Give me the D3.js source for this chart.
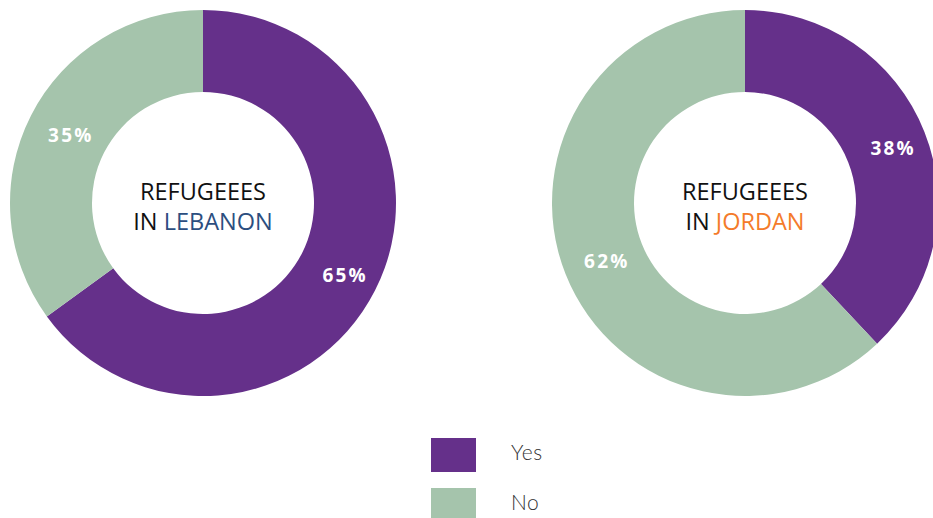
<!DOCTYPE html>
<html><head><meta charset="utf-8">
<script src="https://cdn.jsdelivr.net/npm/d3@7"></script>
<style>body{margin:0;background:#fff;overflow:hidden}svg{display:block}</style>
</head><body>
<script>
const categories = ["Yes", "No"];
const lebanonValues = [65, 35];
const jordanValues = [38, 62];
const countries = ["LEBANON", "JORDAN"];
const colors = ["#65308a", "#a5c4ac"];
const countryColors = ["#2c4e7f", "#f47b2a"];

const W = 933, H = 518;
const svg = d3.select("body").append("svg").attr("width", W).attr("height", H);
const color = d3.scaleOrdinal().domain(categories).range(colors);
const pie = d3.pie().sort(null).value(d => d.v);
const outerR = 193, innerR = 111;
const arc = d3.arc().innerRadius(innerR).outerRadius(outerR);
const labelArc = d3.arc().innerRadius(154).outerRadius(154);

const charts = [
  {cx: 203, cy: 203, values: lebanonValues, name: countries[0], nc: countryColors[0]},
  {cx: 745, cy: 203, values: jordanValues, name: countries[1], nc: countryColors[1]}
];

charts.forEach(c => {
  const g = svg.append("g").attr("transform", `translate(${c.cx},${c.cy})`);
  const data = pie(categories.map((k, i) => ({k, v: c.values[i]})));
  g.selectAll("path").data(data).join("path")
    .attr("d", arc).attr("fill", d => color(d.data.k));
  g.selectAll("text.pct").data(data).join("text").attr("class", "pct")
    .attr("transform", d => { const p = labelArc.centroid(d); return `translate(${p[0] + 5},${p[1] + 2})`; })
    .attr("text-anchor", "middle").attr("dy", "0.35em")
    .attr("fill", "#fff").attr("font-family", "'Open Sans', sans-serif")
    .attr("font-weight", 700).attr("font-size", 19).attr("letter-spacing", 2.2)
    .text(d => d.data.v + "%");
  const t = g.append("text").attr("text-anchor", "middle")
    .attr("font-family", "'Open Sans', 'Noto Sans', sans-serif").attr("font-size", 23.5).attr("fill", "#111");
  t.append("tspan").attr("x", 0).attr("y", -3).text("REFUGEEES");
  const t2 = t.append("tspan").attr("x", 0).attr("y", 27);
  t2.append("tspan").text("IN ");
  t2.append("tspan").attr("fill", c.nc).text(c.name);
});

const leg = svg.append("g").attr("transform", "translate(431,438)");
categories.forEach((k, i) => {
  leg.append("rect").attr("x", 0).attr("y", i * 50).attr("width", 45).attr("height", 34).attr("fill", color(k));
  leg.append("text").attr("x", 80).attr("y", i * 50 + 15).attr("dy", "0.35em")
    .attr("font-family", "Lato, 'Open Sans', sans-serif").attr("font-weight", 300)
    .attr("font-size", 21).attr("letter-spacing", 0.5).attr("fill", "#333").text(k);
});
</script>
</body></html>
